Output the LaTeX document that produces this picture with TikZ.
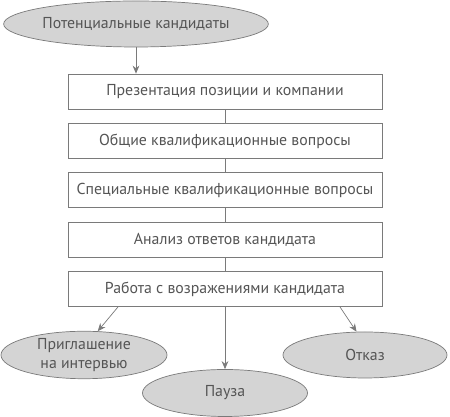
\documentclass[tikz,border=0pt]{standalone}
\usepackage{fontspec}
\setmainfont{PT Sans}
\usepackage{tikz}
\usetikzlibrary{arrows.meta,positioning,calc,shapes.geometric}
\definecolor{stepline}{HTML}{7A7A7A}
\definecolor{stepfill}{HTML}{D4D4D4}
\definecolor{steptext}{HTML}{555555}

\begin{document}
\begin{tikzpicture}[x=1cm,y=1cm,
    stepbox/.style={draw=stepline,line width=0.6pt,fill=white,minimum width=9.42cm,minimum height=1.05cm,text=steptext,font=\fontsize{13.5}{16}\selectfont},
    oval/.style={ellipse,draw=stepline,line width=0.6pt,fill=stepfill,inner sep=0pt,text=steptext,align=center,font=\fontsize{13.5}{16.5}\selectfont},
    link/.style={stepline,line width=0.6pt},
    arr/.style={link,-{Stealth[length=2.4mm,width=2mm]}}]
  \useasboundingbox (0,0) rectangle (13.5,12.51);
  \node[oval,minimum width=6.42cm,minimum height=1.38cm] (cand) at (4.08,11.79) {Потенциальные кандидаты};
  \node[stepbox] (b1) at (6.75,9.765) {Презентация позиции и компании};
  \node[stepbox] (b2) at (6.75,8.283) {Общие квалификационные вопросы};
  \node[stepbox] (b3) at (6.75,6.801) {Специальные квалификационные вопросы};
  \node[stepbox] (b4) at (6.75,5.319) {Анализ ответов кандидата};
  \node[stepbox] (b5) at (6.75,3.837) {Работа с возражениями кандидата};
  % outcomes
  \node[oval,minimum width=4.98cm,minimum height=1.38cm] (inv) at (2.52,1.86) {Приглашение\\на интервью};
  \node[oval,minimum width=4.95cm,minimum height=1.41cm] (pause) at (6.75,0.72) {Пауза};
  \node[oval,minimum width=4.92cm,minimum height=1.38cm] (otk) at (10.95,1.86) {Отказ};
  \draw[arr] (cand.south) -- (cand.south |- b1.north);
  \foreach \a/\b in {b1/b2,b2/b3,b3/b4,b4/b5}
    \draw[link] (\a.south) -- (\b.north);
  \draw[arr] ([xshift=-3.21cm]b5.south) -- (inv.60);
  \draw[arr] (b5.south) -- (pause.north);
  \draw[arr] ([xshift=3.45cm]b5.south) -- (otk.110);
\end{tikzpicture}
\end{document}
